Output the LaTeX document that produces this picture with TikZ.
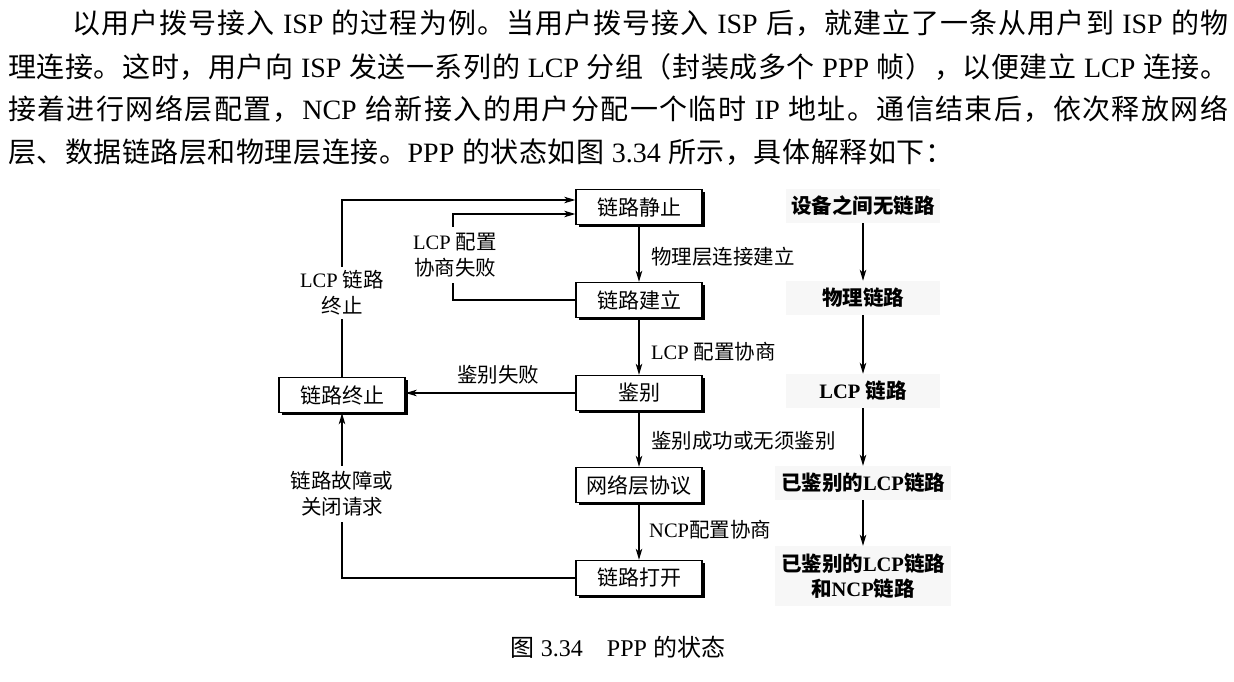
\documentclass[tikz,border=0pt]{standalone}
\usepackage{fontspec}
\setmainfont{Liberation Serif}
\newfontfamily\cjkfont{Noto Sans CJK SC}
\newfontfamily\latinfont{Liberation Serif}
\usetikzlibrary{arrows.meta,shadows}

% Chinese characters and full-width punctuation form one character class;
% the font changes at every switch between Latin and Chinese runs, and a
% little stretchable glue lets the justified lines spread evenly.
\newcount\cjkcode
\newcommand\markcjk[2]{%
  \cjkcode=#1\relax
  \loop
    \XeTeXcharclass\cjkcode=1\relax
  \ifnum\cjkcode<#2\relax
    \advance\cjkcode by 1\relax
  \repeat}
\markcjk{"3000}{"303F}
\markcjk{"4E00}{"9FFF}
\markcjk{"FF00}{"FFEF}
\XeTeXinterchartoks 0 1 = {\cjkfont\hskip0pt plus 3pt\relax}
\XeTeXinterchartoks 4095 1 = {\cjkfont}
\XeTeXinterchartoks 1 0 = {\hskip0pt plus 3pt\relax\latinfont}
\XeTeXinterchartoks 1 4095 = {\latinfont}
\XeTeXinterchartoks 1 1 = {\hskip0pt plus 3pt\relax}
\XeTeXinterchartokenstate=1

\begin{document}
\begin{tikzpicture}[x=1pt,y=-1pt,
  every node/.style={inner sep=0pt},
  arr/.style={line width=1.1pt,-{Stealth[length=11pt,width=6.5pt,inset=3pt]}},
  state/.style={draw,line width=1.4pt,fill=white,minimum width=126pt,
    minimum height=35pt,font=\fontsize{21}{25}\selectfont,
    drop shadow={shadow xshift=2.5pt,shadow yshift=-2.5pt,fill=black,opacity=1}},
  lbl/.style={font=\fontsize{20.5}{26}\selectfont},
  gap/.style={lbl,fill=white,align=center,inner sep=4pt},
  phase/.style={fill=black!3,minimum height=34pt,
    font=\bfseries\fontsize{20.5}{25}\selectfont,align=center},
  para/.style={anchor=west,font=\fontsize{28}{30}\selectfont}]

\useasboundingbox (0,0) rectangle (1234,682);

% paragraph above the figure
\node[para] (p1) at (72,23) {\hbox to 1156pt{以用户拨号接入 ISP 的过程为例。当用户拨号接入 ISP 后，就建立了一条从用户到 ISP 的物}};
\node[para] (p2) at (8,67) {\hbox to 1220pt{理连接。这时，用户向 ISP 发送一系列的 LCP 分组（封装成多个 PPP 帧），以便建立 LCP 连接。}};
\node[para] (p3) at (8,109) {\hbox to 1220pt{接着进行网络层配置，NCP 给新接入的用户分配一个临时 IP 地址。通信结束后，依次释放网络}};
\node[para] (p4) at (8,152) {\hbox to 945pt{层、数据链路层和物理层连接。PPP 的状态如图 3.34 所示，具体解释如下：}};

% state machine
\node[state] (s1) at (639,207) {链路静止};
\node[state] (s2) at (639,300) {链路建立};
\node[state] (s3) at (639,393) {鉴别};
\node[state] (s4) at (639,485) {网络层协议};
\node[state] (s5) at (639,578) {链路打开};
\node[state] (t)  at (342,395) {链路终止};

\draw[arr] (s1) -- (s2);
\draw[arr] (s2) -- (s3);
\draw[arr] (s3) -- (s4);
\draw[arr] (s4) -- (s5);

\node[lbl,anchor=west] (l1) at (651,257) {物理层连接建立};
\node[lbl,anchor=west] (l2) at (651,352) {LCP 配置协商};
\node[lbl,anchor=west] (l3) at (651,441) {鉴别成功或无须鉴别};
\node[lbl,anchor=west] (l4) at (649,530) {NCP配置协商};

\coordinate (k1) at (453,214);
\draw[arr] (t.north) |- ([yshift=7pt]s1.west);
\draw[arr] (s2.west) -| (k1) |- ([yshift=-7pt]s1.west);
\draw[arr] (s3.west) -- (s3.west -| t.east);
\draw[arr] (s5.west) -| (t.south);

\node[gap] (g1) at (342,293) {LCP 链路\\终止};
\node[gap,inner sep=6pt] (g2) at (455,255) {LCP 配置\\协商失败};
\node[gap,inner sep=6pt] (g3) at (342,494) {链路故障或\\关闭请求};
\node[lbl] (g4) at (498,375) {鉴别失败};

% link phases
\node[phase,minimum width=154pt] (r1) at (863,206) {设备之间无链路};
\node[phase,minimum width=154pt] (r2) at (863,298) {物理链路};
\node[phase,minimum width=154pt] (r3) at (863,391) {LCP 链路};
\node[phase,minimum width=176pt] (r4) at (863,483) {已鉴别的LCP链路};
\node[phase,minimum width=176pt,minimum height=60pt] (r5) at (863,576) {已鉴别的LCP链路\\和NCP链路};

\draw[arr] (r1) -- (r2);
\draw[arr] (r2) -- (r3);
\draw[arr] (r3) -- (r4);
\draw[arr] (r4) -- (r5);

% caption
\node[font=\fontsize{24}{28}\selectfont] (cap) at (618,647) {图 3.34　PPP 的状态};
\end{tikzpicture}
\end{document}
